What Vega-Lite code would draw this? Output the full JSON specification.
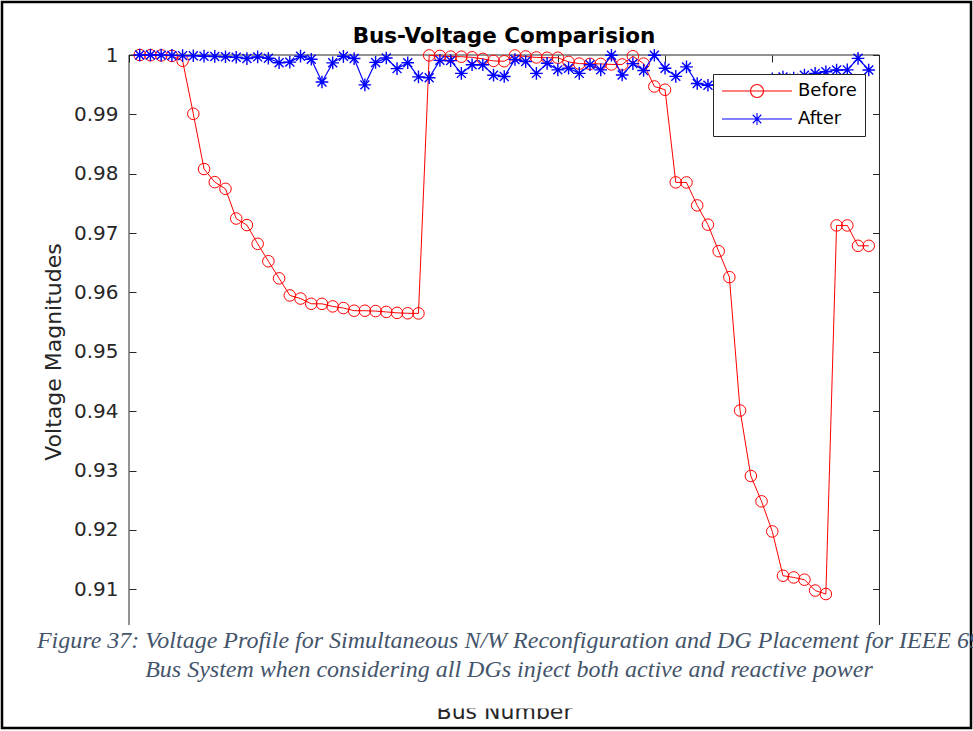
{
  "$schema": "https://vega.github.io/schema/vega-lite/v6.json",
  "width": 969,
  "height": 726,
  "padding": {"left": 2, "top": 2, "right": 2, "bottom": 3},
  "background": "white",
  "title": {
    "text": "Bus-Voltage Comparision",
    "font": "DejaVu Sans",
    "fontSize": 21.5,
    "fontWeight": "bold",
    "color": "#000000",
    "anchor": "middle",
    "frame": "group",
    "baseline": "alphabetic",
    "offset": 0,
    "dx": 17.5,
    "dy": 62
  },
  "data": {
    "values": [
      {"bus": 1, "series": "Before", "v": 1.0},
      {"bus": 2, "series": "Before", "v": 0.99997},
      {"bus": 3, "series": "Before", "v": 0.99993},
      {"bus": 4, "series": "Before", "v": 0.99984},
      {"bus": 5, "series": "Before", "v": 0.99902},
      {"bus": 6, "series": "Before", "v": 0.99009},
      {"bus": 7, "series": "Before", "v": 0.98079},
      {"bus": 8, "series": "Before", "v": 0.97858},
      {"bus": 9, "series": "Before", "v": 0.97745},
      {"bus": 10, "series": "Before", "v": 0.97245},
      {"bus": 11, "series": "Before", "v": 0.97135},
      {"bus": 12, "series": "Before", "v": 0.96819},
      {"bus": 13, "series": "Before", "v": 0.96526},
      {"bus": 14, "series": "Before", "v": 0.96237},
      {"bus": 15, "series": "Before", "v": 0.9595},
      {"bus": 16, "series": "Before", "v": 0.95897},
      {"bus": 17, "series": "Before", "v": 0.95809},
      {"bus": 18, "series": "Before", "v": 0.95808},
      {"bus": 19, "series": "Before", "v": 0.95765},
      {"bus": 20, "series": "Before", "v": 0.95737},
      {"bus": 21, "series": "Before", "v": 0.95692},
      {"bus": 22, "series": "Before", "v": 0.95692},
      {"bus": 23, "series": "Before", "v": 0.95686},
      {"bus": 24, "series": "Before", "v": 0.95672},
      {"bus": 25, "series": "Before", "v": 0.95656},
      {"bus": 26, "series": "Before", "v": 0.95649},
      {"bus": 27, "series": "Before", "v": 0.95647},
      {"bus": 28, "series": "Before", "v": 0.99993},
      {"bus": 29, "series": "Before", "v": 0.99985},
      {"bus": 30, "series": "Before", "v": 0.99973},
      {"bus": 31, "series": "Before", "v": 0.99971},
      {"bus": 32, "series": "Before", "v": 0.99961},
      {"bus": 33, "series": "Before", "v": 0.99935},
      {"bus": 34, "series": "Before", "v": 0.99901},
      {"bus": 35, "series": "Before", "v": 0.99895},
      {"bus": 36, "series": "Before", "v": 0.99992},
      {"bus": 37, "series": "Before", "v": 0.99975},
      {"bus": 38, "series": "Before", "v": 0.99959},
      {"bus": 39, "series": "Before", "v": 0.99954},
      {"bus": 40, "series": "Before", "v": 0.99954},
      {"bus": 41, "series": "Before", "v": 0.99884},
      {"bus": 42, "series": "Before", "v": 0.99855},
      {"bus": 43, "series": "Before", "v": 0.99851},
      {"bus": 44, "series": "Before", "v": 0.9985},
      {"bus": 45, "series": "Before", "v": 0.99841},
      {"bus": 46, "series": "Before", "v": 0.99841},
      {"bus": 47, "series": "Before", "v": 0.99979},
      {"bus": 48, "series": "Before", "v": 0.99854},
      {"bus": 49, "series": "Before", "v": 0.9947},
      {"bus": 50, "series": "Before", "v": 0.99415},
      {"bus": 51, "series": "Before", "v": 0.97854},
      {"bus": 52, "series": "Before", "v": 0.97853},
      {"bus": 53, "series": "Before", "v": 0.97466},
      {"bus": 54, "series": "Before", "v": 0.97142},
      {"bus": 55, "series": "Before", "v": 0.96695},
      {"bus": 56, "series": "Before", "v": 0.96258},
      {"bus": 57, "series": "Before", "v": 0.94011},
      {"bus": 58, "series": "Before", "v": 0.92908},
      {"bus": 59, "series": "Before", "v": 0.92481},
      {"bus": 60, "series": "Before", "v": 0.91974},
      {"bus": 61, "series": "Before", "v": 0.91228},
      {"bus": 62, "series": "Before", "v": 0.91199},
      {"bus": 63, "series": "Before", "v": 0.91161},
      {"bus": 64, "series": "Before", "v": 0.90978},
      {"bus": 65, "series": "Before", "v": 0.90919},
      {"bus": 66, "series": "Before", "v": 0.97129},
      {"bus": 67, "series": "Before", "v": 0.97129},
      {"bus": 68, "series": "Before", "v": 0.96786},
      {"bus": 69, "series": "Before", "v": 0.96786},
      {"bus": 1, "series": "After", "v": 1.0},
      {"bus": 2, "series": "After", "v": 1.0},
      {"bus": 3, "series": "After", "v": 0.99998},
      {"bus": 4, "series": "After", "v": 0.99993},
      {"bus": 5, "series": "After", "v": 0.9999},
      {"bus": 6, "series": "After", "v": 0.99987},
      {"bus": 7, "series": "After", "v": 0.9998},
      {"bus": 8, "series": "After", "v": 0.99976},
      {"bus": 9, "series": "After", "v": 0.9997},
      {"bus": 10, "series": "After", "v": 0.99962},
      {"bus": 11, "series": "After", "v": 0.9994},
      {"bus": 12, "series": "After", "v": 0.99968},
      {"bus": 13, "series": "After", "v": 0.99945},
      {"bus": 14, "series": "After", "v": 0.9987},
      {"bus": 15, "series": "After", "v": 0.9988},
      {"bus": 16, "series": "After", "v": 0.9998},
      {"bus": 17, "series": "After", "v": 0.99928},
      {"bus": 18, "series": "After", "v": 0.99545},
      {"bus": 19, "series": "After", "v": 0.99868},
      {"bus": 20, "series": "After", "v": 0.99978},
      {"bus": 21, "series": "After", "v": 0.9994},
      {"bus": 22, "series": "After", "v": 0.99497},
      {"bus": 23, "series": "After", "v": 0.99875},
      {"bus": 24, "series": "After", "v": 0.9995},
      {"bus": 25, "series": "After", "v": 0.9977},
      {"bus": 26, "series": "After", "v": 0.9987},
      {"bus": 27, "series": "After", "v": 0.99632},
      {"bus": 28, "series": "After", "v": 0.99618},
      {"bus": 29, "series": "After", "v": 0.9991},
      {"bus": 30, "series": "After", "v": 0.99905},
      {"bus": 31, "series": "After", "v": 0.9969},
      {"bus": 32, "series": "After", "v": 0.99835},
      {"bus": 33, "series": "After", "v": 0.99835},
      {"bus": 34, "series": "After", "v": 0.9966},
      {"bus": 35, "series": "After", "v": 0.99638},
      {"bus": 36, "series": "After", "v": 0.99925},
      {"bus": 37, "series": "After", "v": 0.9989},
      {"bus": 38, "series": "After", "v": 0.9969},
      {"bus": 39, "series": "After", "v": 0.9986},
      {"bus": 40, "series": "After", "v": 0.9975},
      {"bus": 41, "series": "After", "v": 0.99778},
      {"bus": 42, "series": "After", "v": 0.9969},
      {"bus": 43, "series": "After", "v": 0.99835},
      {"bus": 44, "series": "After", "v": 0.9975},
      {"bus": 45, "series": "After", "v": 0.99995},
      {"bus": 46, "series": "After", "v": 0.99663},
      {"bus": 47, "series": "After", "v": 0.99855},
      {"bus": 48, "series": "After", "v": 0.9974},
      {"bus": 49, "series": "After", "v": 0.99995},
      {"bus": 50, "series": "After", "v": 0.99778},
      {"bus": 51, "series": "After", "v": 0.9964},
      {"bus": 52, "series": "After", "v": 0.998},
      {"bus": 53, "series": "After", "v": 0.9952},
      {"bus": 54, "series": "After", "v": 0.9949},
      {"bus": 55, "series": "After", "v": 0.995},
      {"bus": 56, "series": "After", "v": 0.9948},
      {"bus": 57, "series": "After", "v": 0.9953},
      {"bus": 58, "series": "After", "v": 0.9957},
      {"bus": 59, "series": "After", "v": 0.9955},
      {"bus": 60, "series": "After", "v": 0.996},
      {"bus": 61, "series": "After", "v": 0.9963},
      {"bus": 62, "series": "After", "v": 0.9961},
      {"bus": 63, "series": "After", "v": 0.9966},
      {"bus": 64, "series": "After", "v": 0.9969},
      {"bus": 65, "series": "After", "v": 0.99718},
      {"bus": 66, "series": "After", "v": 0.99747},
      {"bus": 67, "series": "After", "v": 0.9975},
      {"bus": 68, "series": "After", "v": 0.99944},
      {"bus": 69, "series": "After", "v": 0.99747}
    ]
  },
  "layer": [
    {
      "data": {"values": [{}]},
      "mark": {"type": "rule", "color": "#262626", "strokeWidth": 1},
      "encoding": {
        "x": {"datum": 0, "type": "quantitative", "axis": null, "scale": {"domain": [-11.846, 78.537], "nice": false, "zero": false}},
        "x2": {"datum": 70},
        "y": {"datum": 1, "type": "quantitative", "axis": null, "scale": {"domain": [0.886624, 1.008929], "nice": false, "zero": false}}
      }
    },
    {
      "data": {"values": [{}]},
      "mark": {"type": "rule", "color": "#262626", "strokeWidth": 1},
      "encoding": {
        "x": {"datum": 0, "type": "quantitative", "axis": null, "scale": {"domain": [-11.846, 78.537], "nice": false, "zero": false}},
        "y": {"datum": 1, "type": "quantitative", "axis": null, "scale": {"domain": [0.886624, 1.008929], "nice": false, "zero": false}},
        "y2": {"datum": 0.90398}
      }
    },
    {
      "data": {"values": [{}]},
      "mark": {"type": "rule", "color": "#262626", "strokeWidth": 1},
      "encoding": {
        "x": {"datum": 70, "type": "quantitative", "axis": null, "scale": {"domain": [-11.846, 78.537], "nice": false, "zero": false}},
        "y": {"datum": 1, "type": "quantitative", "axis": null, "scale": {"domain": [0.886624, 1.008929], "nice": false, "zero": false}},
        "y2": {"datum": 0.90398}
      }
    },
    {
      "transform": [{"filter": "datum.series === 'Before'"}],
      "mark": {"type": "line", "strokeWidth": 1},
      "encoding": {
        "x": {
          "field": "bus", "type": "quantitative",
          "scale": {"domain": [-11.846, 78.537], "nice": false, "zero": false},
          "axis": {
            "orient": "bottom", "offset": -80, "domain": false, "ticks": false, "labels": false, "grid": false,
            "title": "Bus Number", "titleFont": "DejaVu Sans", "titleFontSize": 22, "titleFontWeight": "normal",
            "titleColor": "#262626", "titleX": 502, "titleY": 70, "titleBaseline": "alphabetic", "titleAlign": "center"
          }
        },
        "y": {
          "field": "v", "type": "quantitative",
          "scale": {"domain": [0.886624, 1.008929], "nice": false, "zero": false},
          "axis": {
            "orient": "left", "offset": -127, "domain": false, "grid": false,
            "values": [0.91, 0.92, 0.93, 0.94, 0.95, 0.96, 0.97, 0.98, 0.99, 1.0],
            "format": ".2~f", "tickSize": -7, "tickColor": "#262626", "tickWidth": 1,
            "labelPadding": 18, "labelFont": "DejaVu Sans", "labelFontSize": 20, "labelColor": "#262626",
            "title": "Voltage Magnitudes", "titleFont": "DejaVu Sans", "titleFontSize": 22, "titleFontWeight": "normal",
            "titleColor": "#262626", "titleX": -69, "titleY": 349.5, "titleAngle": -90, "titleAlign": "center", "titleBaseline": "alphabetic"
          }
        },
        "stroke": {
          "field": "series", "type": "nominal",
          "scale": {"domain": ["Before", "After"], "range": ["#ff0000", "#0000ff"]},
          "legend": {
            "title": null, "orient": "none", "legendX": 711, "legendY": 72, "direction": "vertical",
            "fillColor": "#ffffff", "strokeColor": "#262626", "padding": 8, "rowPadding": 10,
            "symbolSize": 196, "symbolOffset": 27, "symbolStrokeWidth": 1.1, "labelOffset": 32,
            "labelFont": "DejaVu Sans", "labelFontSize": 18, "labelColor": "#000000",
            "encode": {
              "symbols": {
                "update": {
                  "shape": {"signal": "datum.value === 'Before' ? 'M-5,0L5,0M0.929,0A0.929,0.929,0,1,1,-0.929,0A0.929,0.929,0,1,1,0.929,0' : 'M-5,0L5,0M0,-0.857L0,0.857M-0.606,-0.606L0.606,0.606M-0.606,0.606L0.606,-0.606'"},
                  "fill": {"value": "transparent"},
                  "size": {"value": 196}
                }
              }
            }
          }
        }
      }
    },
    {
      "transform": [{"filter": "datum.series === 'Before'"}],
      "mark": {"type": "point", "shape": "circle", "filled": false, "size": 133, "strokeWidth": 1, "opacity": 1},
      "encoding": {
        "x": {"field": "bus", "type": "quantitative", "axis": null, "scale": {"domain": [-11.846, 78.537], "nice": false, "zero": false}},
        "y": {"field": "v", "type": "quantitative", "axis": null, "scale": {"domain": [0.886624, 1.008929], "nice": false, "zero": false}},
        "stroke": {"field": "series", "type": "nominal", "scale": {"domain": ["Before", "After"], "range": ["#ff0000", "#0000ff"]}}
      }
    },
    {
      "transform": [{"filter": "datum.series === 'After'"}],
      "mark": {"type": "line", "strokeWidth": 1.2},
      "encoding": {
        "x": {
          "field": "bus", "type": "quantitative",
          "scale": {"domain": [-11.846, 78.537], "nice": false, "zero": false},
          "axis": {
            "orient": "top", "offset": -53, "domain": false, "labels": false, "grid": false, "title": null,
            "values": [0, 10, 20, 30, 40, 50, 60, 70], "tickSize": -7, "tickColor": "#262626", "tickWidth": 1
          }
        },
        "y": {
          "field": "v", "type": "quantitative",
          "scale": {"domain": [0.886624, 1.008929], "nice": false, "zero": false},
          "axis": {
            "orient": "right", "offset": -91.5, "domain": false, "labels": false, "grid": false, "title": null,
            "values": [0.91, 0.92, 0.93, 0.94, 0.95, 0.96, 0.97, 0.98, 0.99, 1.0],
            "tickSize": -7, "tickColor": "#262626", "tickWidth": 1
          }
        },
        "stroke": {"field": "series", "type": "nominal", "scale": {"domain": ["Before", "After"], "range": ["#ff0000", "#0000ff"]}}
      }
    },
    {
      "transform": [{"filter": "datum.series === 'After'"}],
      "mark": {"type": "point", "shape": "M0,-1L0,1M-1,0L1,0M-0.7071,-0.7071L0.7071,0.7071M-0.7071,0.7071L0.7071,-0.7071", "filled": false, "size": 160, "strokeWidth": 1.4, "opacity": 1},
      "encoding": {
        "x": {"field": "bus", "type": "quantitative", "axis": null, "scale": {"domain": [-11.846, 78.537], "nice": false, "zero": false}},
        "y": {"field": "v", "type": "quantitative", "axis": null, "scale": {"domain": [0.886624, 1.008929], "nice": false, "zero": false}},
        "stroke": {"field": "series", "type": "nominal", "scale": {"domain": ["Before", "After"], "range": ["#ff0000", "#0000ff"]}}
      }
    },
    {
      "data": {"values": [{}]},
      "mark": {"type": "rect", "fill": "#ffffff", "stroke": null},
      "encoding": {
        "x": {"datum": -11.66, "type": "quantitative", "axis": null, "scale": {"domain": [-11.846, 78.537], "nice": false, "zero": false}},
        "x2": {"datum": 78.35},
        "y": {"datum": 0.90398, "type": "quantitative", "axis": null, "scale": {"domain": [0.886624, 1.008929], "nice": false, "zero": false}},
        "y2": {"datum": 0.88991}
      }
    },
    {
      "data": {"values": [{}]},
      "mark": {"type": "text", "text": "Figure 37: Voltage Profile for Simultaneous N/W Reconfiguration and DG Placement for IEEE 69", "font": "Liberation Serif", "fontStyle": "italic", "fontSize": 24, "color": "#44546A", "align": "center", "baseline": "alphabetic"},
      "encoding": {
        "x": {"datum": 35.44, "type": "quantitative", "axis": null, "scale": {"domain": [-11.846, 78.537], "nice": false, "zero": false}},
        "y": {"datum": 0.90005, "type": "quantitative", "axis": null, "scale": {"domain": [0.886624, 1.008929], "nice": false, "zero": false}}
      }
    },
    {
      "data": {"values": [{}]},
      "mark": {"type": "text", "text": "Bus System when considering all DGs inject both active and reactive power", "font": "Liberation Serif", "fontStyle": "italic", "fontSize": 24, "color": "#44546A", "align": "center", "baseline": "alphabetic"},
      "encoding": {
        "x": {"datum": 35.44, "type": "quantitative", "axis": null, "scale": {"domain": [-11.846, 78.537], "nice": false, "zero": false}},
        "y": {"datum": 0.89527, "type": "quantitative", "axis": null, "scale": {"domain": [0.886624, 1.008929], "nice": false, "zero": false}}
      }
    }
  ],
  "resolve": {"axis": {"x": "independent", "y": "independent"}},
  "config": {
    "view": {"stroke": "#000000", "strokeWidth": 2.5},
    "axis": {"grid": false}
  }
}
